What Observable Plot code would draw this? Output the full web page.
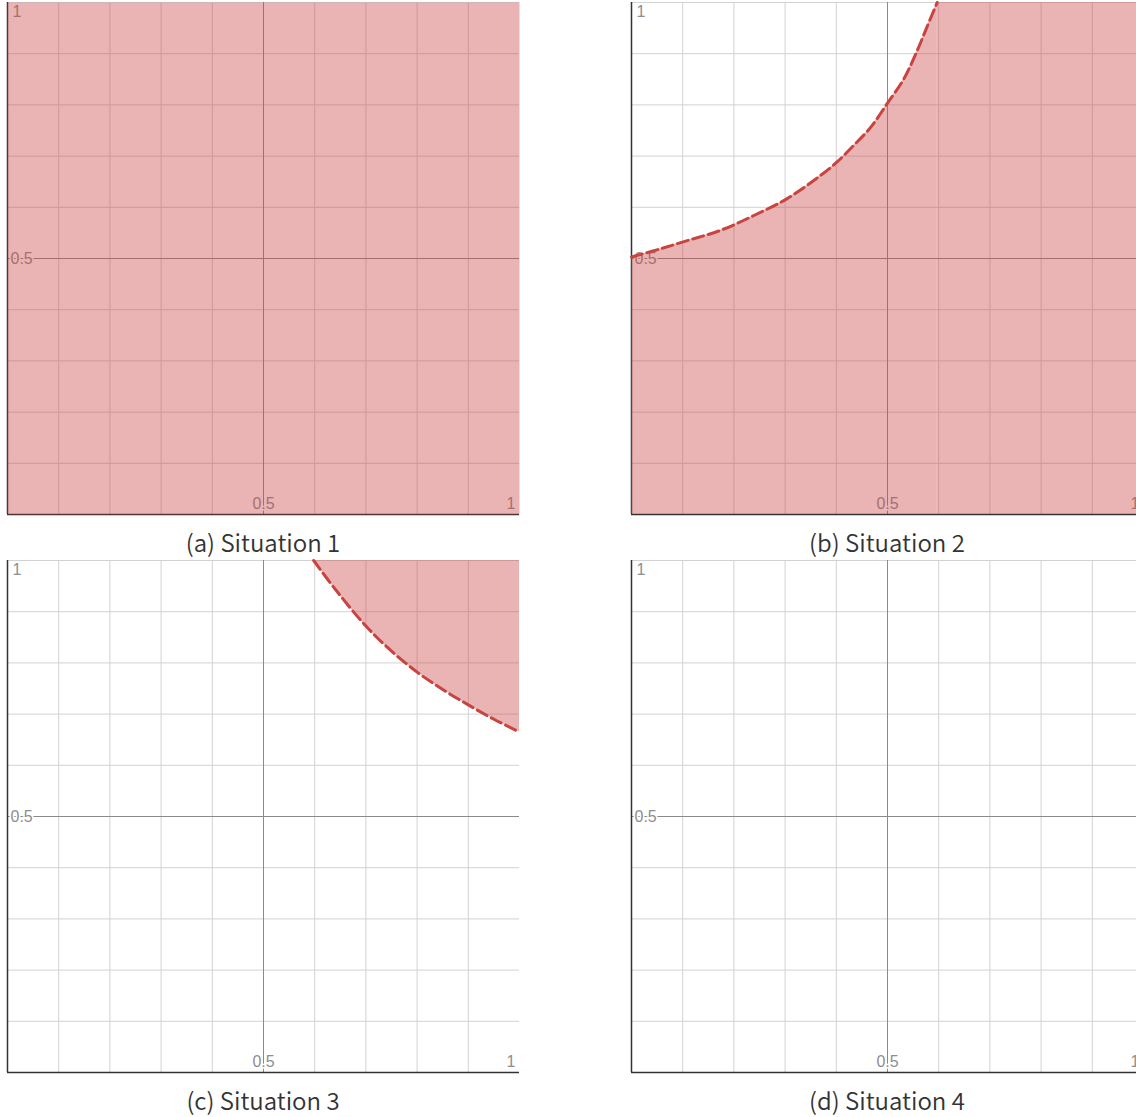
<!DOCTYPE html>
<html>
<head>
<meta charset="utf-8">
<script src="https://cdn.jsdelivr.net/npm/d3@7"></script>
<script src="https://cdn.jsdelivr.net/npm/@observablehq/plot@0.6"></script>
<style>
  html, body { margin: 0; padding: 0; background: #fff; overflow: hidden; width: 1136px; height: 1117px; }
  #root { position: relative; width: 1136px; height: 1117px; overflow: hidden; }
  .panel { position: absolute; width: 520px; height: 520px; }
  .panel svg { max-width: none !important; width: 520px; height: 520px; }
  .caption { position: absolute; width: 512px; text-align: center; line-height: 30px;
             font-family: "Noto Sans CJK KR", "Noto Sans", sans-serif; font-weight: 350; font-size: 24px; color: #333; }
</style>
</head>
<body>
<div id="root"></div>
<script>
// ---- data ----
const captions = ["(a) Situation 1", "(b) Situation 2", "(c) Situation 3", "(d) Situation 4"];
const regionKinds = ["full", "below", "above", "none"];

const xMinorTicks = [0.1, 0.2, 0.3, 0.4, 0.6, 0.7, 0.8, 0.9];
const yMinorTicks = [0.1, 0.2, 0.3, 0.4, 0.6, 0.7, 0.8, 0.9, 1.0];
const majorTicks = [0.5];
const axisValues = [0];
const midLabel = [0.5];
const endLabel = [1];

// Situation 2: boundary curve (region below / right of it is shaded)
const curveB_x = [0.000, 0.057, 0.109, 0.174, 0.239, 0.304, 0.369, 0.402, 0.434, 0.467, 0.499, 0.532, 0.558, 0.577, 0.597];
const curveB_y = [0.503, 0.519, 0.535, 0.555, 0.584, 0.617, 0.662, 0.689, 0.721, 0.756, 0.802, 0.851, 0.906, 0.952, 1.000];

// Situation 3: boundary curve (region above / right of it is shaded)
const curveC_x = [0.598, 0.640, 0.700, 0.750, 0.800, 0.850, 0.900, 0.950, 1.000];
const curveC_y = [1.000, 0.944, 0.872, 0.823, 0.782, 0.748, 0.718, 0.690, 0.665];

// ---- layout ----
const panelPos = [[7, 2], [631, 2], [7, 560], [631, 560]];
const SIZE = 512, M = 4;
const RED = "#c74440";
const labelFont = { fontFamily: "Liberation Sans, Arial, sans-serif", fontSize: 16, fill: "#8e8e8e",
                    stroke: "white", strokeWidth: 3 };

function pts(xs, ys) { return xs.map((x, i) => ({x, y: ys[i]})); }

function panel(i) {
  const kind = regionKinds[i];
  const marks = [
    Plot.ruleX(xMinorTicks, {stroke: "#d2d2d2", strokeWidth: 1}),
    Plot.ruleY(yMinorTicks, {stroke: "#d2d2d2", strokeWidth: 1}),
    Plot.ruleX(majorTicks, {stroke: "#8a8a8a", strokeWidth: 1}),
    Plot.ruleY(majorTicks, {stroke: "#8a8a8a", strokeWidth: 1}),
    Plot.ruleX(axisValues, {stroke: "#333", strokeWidth: 1.5}),
    Plot.ruleY(axisValues, {stroke: "#333", strokeWidth: 1.5}),
    // x labels
    Plot.text(midLabel, {x: d => d, y: 0, text: d => String(d), textAnchor: "middle", lineAnchor: "bottom", dy: -6, ...labelFont}),
    Plot.text(endLabel, {x: d => d, y: 0, text: d => String(d), textAnchor: "end", lineAnchor: "bottom", dy: -6, dx: -4, ...labelFont}),
    // y labels
    Plot.text(midLabel, {x: 0, y: d => d, text: d => String(d), textAnchor: "start", lineAnchor: "middle", dx: 3, ...labelFont}),
    Plot.text(endLabel, {x: 0, y: d => d, text: d => String(d), textAnchor: "start", lineAnchor: "top", dx: 5, dy: 3, ...labelFont})
  ];
  if (kind === "full") {
    marks.push(Plot.frame({fill: RED, fillOpacity: 0.4, stroke: null}));
  } else if (kind === "below") {
    const p = pts(curveB_x, curveB_y);
    marks.push(Plot.areaY(p, {x: "x", y1: 0, y2: "y", fill: RED, fillOpacity: 0.4, curve: "catmull-rom"}));
    marks.push(Plot.rect([curveB_x[curveB_x.length - 1]], {x1: d => d, x2: 1, y1: 0, y2: 1, fill: RED, fillOpacity: 0.4}));
    marks.push(Plot.line(p, {x: "x", y: "y", stroke: RED, strokeWidth: 3, strokeDasharray: "11,5", curve: "catmull-rom"}));
  } else if (kind === "above") {
    const p = pts(curveC_x, curveC_y);
    marks.push(Plot.areaY(p, {x: "x", y1: "y", y2: 1, fill: RED, fillOpacity: 0.4, curve: "catmull-rom"}));
    marks.push(Plot.line(p, {x: "x", y: "y", stroke: RED, strokeWidth: 3, strokeDasharray: "11,5", curve: "catmull-rom"}));
  }
  return Plot.plot({
    width: SIZE + 2 * M, height: SIZE + 2 * M, margin: M,
    x: {domain: [0, 1]}, y: {domain: [0, 1]}, axis: null,
    style: {background: "transparent", overflow: "visible", maxWidth: "none"},
    marks
  });
}

const root = document.getElementById("root");
panelPos.forEach(([left, top], i) => {
  const div = document.createElement("div");
  div.className = "panel";
  div.style.left = (left - M) + "px";
  div.style.top = (top - M) + "px";
  div.appendChild(panel(i));
  root.appendChild(div);
  const cap = document.createElement("div");
  cap.className = "caption";
  cap.style.left = left + "px";
  cap.style.top = (top + SIZE + 13) + "px";
  cap.textContent = captions[i];
  root.appendChild(cap);
});
</script>
</body>
</html>
